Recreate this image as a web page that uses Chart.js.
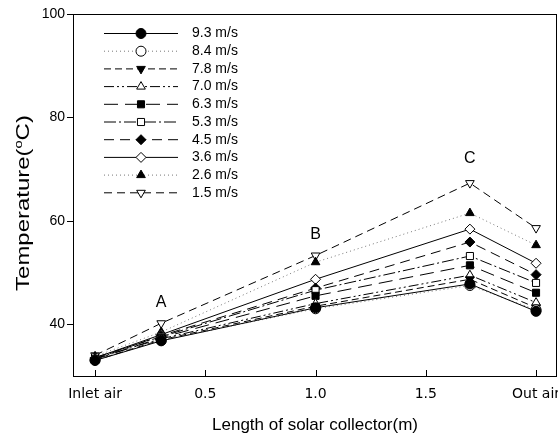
<!DOCTYPE html>
<html>
<head>
<meta charset="utf-8">
<title>Air temperature along the solar collector</title>
<script src="https://cdn.jsdelivr.net/npm/chart.js@4.4.0/dist/chart.umd.min.js"></script>
<style>
  html, body { margin: 0; padding: 0; background: #fff; }
  canvas { display: block; }
</style>
</head>
<body>
<canvas id="tempChart" width="558" height="437"></canvas>
<script>
// measuring positions along the collector (m): inlet, A, B, C, outlet
const positions = [0, 0.3, 1.0, 1.7, 2.0];
const xTickValues = [0, 0.5, 1.0, 1.5, 2.0];
const xTickText = ['Inlet air', '0.5', '1.0', '1.5', 'Out air'];
const yTickValues = [40, 60, 80, 100];
const stationNames = ['A', 'B', 'C'];
const stationIndex = [1, 2, 3];

// air velocity in the duct
const speeds = ['9.3 m/s', '8.4 m/s', '7.8 m/s', '7.0 m/s', '6.3 m/s',
                '5.3 m/s', '4.5 m/s', '3.6 m/s', '2.6 m/s', '1.5 m/s'];

// air temperature (oC) at each position
const temp93 = [33.0, 36.8, 43.2, 47.8, 42.5];
const temp84 = [33.1, 36.9, 43.0, 47.5, 42.8];
const temp78 = [33.0, 37.0, 43.5, 48.7, 43.2];
const temp70 = [33.4, 37.2, 44.0, 49.5, 44.2];
const temp63 = [33.2, 37.4, 45.5, 51.4, 46.1];
const temp53 = [33.6, 37.6, 46.6, 53.2, 48.0];
const temp45 = [33.3, 37.8, 47.0, 55.9, 49.6];
const temp36 = [33.5, 38.0, 48.7, 58.4, 51.8];
const temp26 = [33.8, 38.5, 52.0, 61.5, 55.3];
const temp15 = [34.0, 40.2, 53.3, 67.3, 58.6];
const temps = [temp93, temp84, temp78, temp70, temp63, temp53, temp45, temp36, temp26, temp15];

// marker and line style per series
const markerStyle = ['circle', 'circle', 'triangle', 'triangle', 'rect',
                     'rect', 'rectRot', 'rectRot', 'triangle', 'triangle'];
const markerRotation = [0, 0, 180, 0, 0, 0, 0, 0, 0, 180];
const markerFilled = [true, false, true, false, true, false, true, false, true, false];
const lineDash = [[], [1, 3], [7, 4], [10, 3, 2, 3, 2, 3], [14, 7],
                  [12, 3, 2, 3], [10, 6], [], [1, 3], [8, 5]];
const lineColor = ['#000', '#777', '#000', '#000', '#000',
                   '#000', '#000', '#000', '#777', '#000'];

const datasets = speeds.map((label, i) => ({
  label: label,
  data: positions.map((x, j) => ({ x: x, y: temps[i][j] })),
  borderColor: lineColor[i],
  borderWidth: 1,
  borderDash: lineDash[i],
  tension: 0,
  pointStyle: markerStyle[i],
  rotation: markerRotation[i],
  pointRadius: 5,
  pointBorderColor: '#000',
  pointBorderWidth: 1,
  pointBackgroundColor: markerFilled[i] ? '#000' : '#fff'
}));

// frame, ticks, titles, station letters and the inset legend
const decorations = {
  id: 'decorations',
  afterDatasetsDraw(chart) {
    const ctx = chart.ctx;
    const area = chart.chartArea;
    const xs = chart.scales.x;
    const ys = chart.scales.y;
    ctx.save();
    ctx.strokeStyle = '#000';
    ctx.lineWidth = 1;
    ctx.setLineDash([]);
    ctx.strokeRect(Math.round(area.left) + 0.5, Math.round(area.top) + 0.5,
                   Math.round(area.right - area.left) - 1, Math.round(area.bottom - area.top));

    ctx.beginPath();
    xTickValues.forEach(v => {
      const px = Math.round(xs.getPixelForValue(v)) + 0.5;
      ctx.moveTo(px, area.bottom);
      ctx.lineTo(px, area.bottom - 6);
    });
    yTickValues.forEach(v => {
      const py = Math.round(ys.getPixelForValue(v)) + 0.5;
      ctx.moveTo(area.left, py);
      ctx.lineTo(area.left - 6, py);
    });
    ctx.stroke();

    // station letters above the slowest-air curve
    ctx.fillStyle = '#000';
    ctx.font = '16px "Liberation Sans", Arial, sans-serif';
    ctx.textAlign = 'center';
    ctx.textBaseline = 'middle';
    stationNames.forEach((name, k) => {
      const j = stationIndex[k];
      const px = xs.getPixelForValue(positions[j]);
      const py = ys.getPixelForValue(temp15[j]);
      ctx.fillText(name, px, py - (k === 2 ? 25 : 21));
    });

    // axis titles
    ctx.font = '17px "Liberation Sans", Arial, sans-serif';
    ctx.fillText('Length of solar collector(m)', (area.left + area.right) / 2, 425);

    ctx.save();
    ctx.translate(29, 203);
    ctx.rotate(-Math.PI / 2);
    ctx.scale(1.33, 1);
    const big = '18px "Liberation Sans", Arial, sans-serif';
    const small = '11px "Liberation Sans", Arial, sans-serif';
    ctx.font = big;
    const w1 = ctx.measureText('Temperature(').width;
    const w3 = ctx.measureText('C)').width;
    ctx.font = small;
    const w2 = ctx.measureText('o').width;
    let x0 = -(w1 + w2 + w3) / 2;
    ctx.textAlign = 'left';
    ctx.textBaseline = 'alphabetic';
    ctx.font = big;
    ctx.fillText('Temperature(', x0, 0);
    ctx.font = small;
    ctx.fillText('o', x0 + w1, -7);
    ctx.font = big;
    ctx.fillText('C)', x0 + w1 + w2, 0);
    ctx.restore();

    // legend
    ctx.font = '14px "Liberation Sans", Arial, sans-serif';
    ctx.textAlign = 'left';
    ctx.textBaseline = 'middle';
    chart.data.datasets.forEach((ds, i) => {
      const y = 33.5 + i * 17.7;
      ctx.strokeStyle = ds.borderColor;
      ctx.setLineDash(ds.borderDash);
      ctx.beginPath();
      ctx.moveTo(104, y);
      ctx.lineTo(178, y);
      ctx.stroke();
      ctx.setLineDash([]);
      ctx.strokeStyle = '#000';
      ctx.fillStyle = ds.pointBackgroundColor;
      Chart.helpers.drawPoint(ctx, {
        pointStyle: ds.pointStyle,
        rotation: ds.rotation,
        radius: 5,
        borderWidth: 1
      }, 141, y);
      ctx.fillStyle = '#000';
      ctx.fillText(ds.label, 192, y);
    });
    ctx.restore();
  }
};

new Chart(document.getElementById('tempChart'), {
  type: 'line',
  data: { datasets: datasets },
  plugins: [decorations],
  options: {
    responsive: false,
    animation: false,
    layout: { autoPadding: false, padding: { top: 14, right: 1, left: 0, bottom: 0 } },
    plugins: { legend: { display: false }, tooltip: { enabled: false } },
    scales: {
      x: {
        type: 'linear',
        min: -0.1,
        max: 2.095,
        grid: { display: false, drawTicks: false },
        border: { display: false },
        afterBuildTicks: s => { s.ticks = xTickValues.map(v => ({ value: v })); },
        afterFit: s => { s.height = 61; s.paddingLeft = 0; s.paddingRight = 0; },
        ticks: {
          autoSkip: false,
          maxRotation: 0,
          padding: 10,
          color: '#000',
          font: { family: '"DejaVu Sans", sans-serif', size: 14 },
          callback: v => xTickText[xTickValues.indexOf(v)]
        }
      },
      y: {
        min: 30,
        max: 100,
        grid: { display: false, drawTicks: false },
        border: { display: false },
        afterBuildTicks: s => { s.ticks = yTickValues.map(v => ({ value: v })); },
        afterFit: s => { s.width = 73; s.paddingTop = 0; s.paddingBottom = 0; },
        ticks: {
          padding: 8,
          color: '#000',
          font: { family: '"Liberation Sans", Arial, sans-serif', size: 14 }
        }
      }
    }
  }
});
</script>
</body>
</html>
